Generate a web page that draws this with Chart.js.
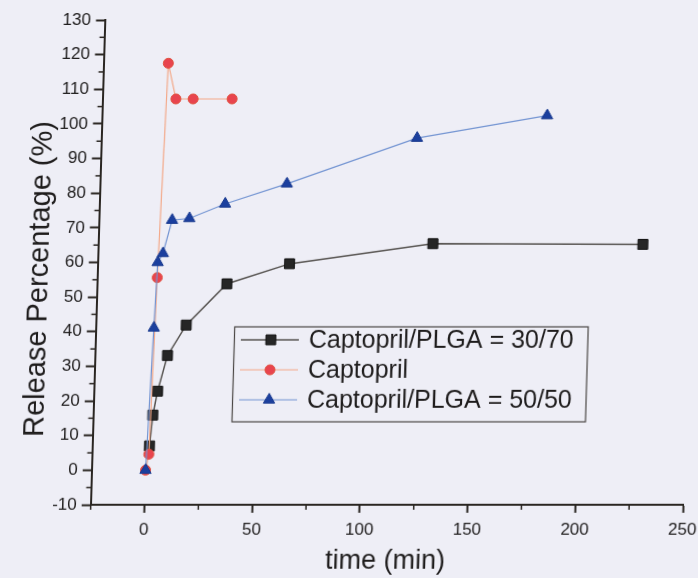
<!DOCTYPE html>
<html>
<head>
<meta charset="utf-8">
<script src="https://cdn.jsdelivr.net/npm/chart.js@4.4.1/dist/chart.umd.min.js"></script>
<style>
  html, body { margin: 0; padding: 0; background: #eeeef6; }
  #wrap { width: 698px; height: 578px; overflow: hidden; }
  canvas { display: block; transform: skewX(-1.69deg); transform-origin: 0 505px; }
</style>
</head>
<body>
<div id="wrap"><canvas id="c" width="698" height="578"></canvas></div>
<script>
// ---- data ----
const seriesNames = ['Captopril/PLGA = 30/70', 'Captopril', 'Captopril/PLGA = 50/50'];

const time3070    = [1.5, 2.6, 4.5, 8.6, 16.9, 35.2, 64.0, 130.3, 227.8];
const release3070 = [7.0, 15.9, 22.8, 33.1, 41.9, 53.8, 59.6, 65.4, 65.2];

const timeCap     = [0, 1.3, 2.8, 5.0, 9.0, 17.0, 35.1];
const releaseCap  = [0, 4.6, 55.6, 117.5, 107.2, 107.2, 107.2];

const time5050    = [0, 1.9, 2.8, 5.1, 8.9, 16.9, 33.3, 61.7, 121.5, 181.6];
const release5050 = [0, 41.1, 60.0, 62.6, 72.2, 72.7, 76.9, 82.7, 95.9, 102.4];

const xTickValues = [0, 50, 100, 150, 200, 250];
const yTickValues = [-10, 0, 10, 20, 30, 40, 50, 60, 70, 80, 90, 100, 110, 120, 130];
const xMinorTicks = [-25, 25, 75, 125, 175, 225];
const yMinorTicks = [-5, 5, 15, 25, 35, 45, 55, 65, 75, 85, 95, 105, 115, 125];

const xTitle = 'time (min)';
const yTitle = 'Release Percentage (%)';

const toPoints = (xs, ys) => xs.map((x, i) => ({ x: x, y: ys[i] }));

const FONT = '"Liberation Sans", Arial, sans-serif';
const AXIS = '#2a2622';

const minorTicks = {
  id: 'minorTicks',
  afterDraw(chart) {
    const { ctx, chartArea, scales } = chart;
    ctx.save();
    ctx.strokeStyle = AXIS;
    ctx.lineWidth = 1.5;
    xMinorTicks.forEach(v => {
      const px = scales.x.getPixelForValue(v);
      ctx.beginPath(); ctx.moveTo(px, chartArea.bottom); ctx.lineTo(px, chartArea.bottom + 5); ctx.stroke();
    });
    yMinorTicks.forEach(v => {
      const py = scales.y.getPixelForValue(v);
      ctx.beginPath(); ctx.moveTo(chartArea.left, py); ctx.lineTo(chartArea.left - 5, py); ctx.stroke();
    });
    ctx.restore();
  }
};

const yTitlePlugin = {
  id: 'yTitle',
  afterDraw(chart) {
    const ctx = chart.ctx;
    ctx.save();
    ctx.translate(41, 279);
    ctx.rotate(-Math.PI / 2);
    ctx.font = '29px ' + FONT;
    ctx.fillStyle = '#1e1c1c';
    ctx.textAlign = 'center';
    ctx.textBaseline = 'alphabetic';
    ctx.fillText(yTitle, 0, 0);
    ctx.restore();
  }
};

function drawMarker(ctx, style, x, y, r) {
  ctx.beginPath();
  if (style === 'rect') {
    const s = Math.SQRT1_2 * r;
    ctx.rect(x - s, y - s, 2 * s, 2 * s);
  } else if (style === 'circle') {
    ctx.arc(x, y, r, 0, Math.PI * 2);
  } else if (style === 'triangle') {
    ctx.moveTo(x, y - r);
    ctx.lineTo(x + r * Math.sin(Math.PI * 2 / 3), y - r * Math.cos(Math.PI * 2 / 3));
    ctx.lineTo(x - r * Math.sin(Math.PI * 2 / 3), y - r * Math.cos(Math.PI * 2 / 3));
    ctx.closePath();
  }
  ctx.fill();
  ctx.stroke();
}

const boxLegend = {
  id: 'boxLegend',
  afterDraw(chart) {
    const ctx = chart.ctx;
    const left = 229.5, top = 327, right = 583, bottom = 422;
    ctx.save();
    ctx.strokeStyle = '#4a4644';
    ctx.lineWidth = 1.2;
    ctx.strokeRect(left, top, right - left, bottom - top);
    const baselines = [348, 378, 408];
    chart.data.datasets.forEach((ds, i) => {
      const yb = baselines[i];
      const ym = yb - 8;
      ctx.strokeStyle = ds.borderColor;
      ctx.lineWidth = ds.borderWidth;
      ctx.beginPath(); ctx.moveTo(236, ym); ctx.lineTo(294, ym); ctx.stroke();
      ctx.fillStyle = ds.pointBackgroundColor;
      ctx.strokeStyle = ds.pointBorderColor;
      ctx.lineWidth = 1;
      drawMarker(ctx, ds.pointStyle, 266, ym, ds.pointRadius);
      ctx.fillStyle = '#1e1c1c';
      ctx.font = '25px ' + FONT;
      ctx.textAlign = 'left';
      ctx.textBaseline = 'alphabetic';
      ctx.fillText(ds.label, 304, yb);
    });
    ctx.restore();
  }
};

new Chart(document.getElementById('c'), {
  type: 'scatter',
  data: {
    datasets: [
      {
        label: seriesNames[0],
        data: toPoints(time3070, release3070),
        showLine: true,
        borderColor: '#55524f',
        borderWidth: 1.5,
        pointStyle: 'rect',
        pointRadius: 7,
        pointBackgroundColor: '#262626',
        pointBorderColor: '#111111',
        pointBorderWidth: 1,
        order: 2
      },
      {
        label: seriesNames[1],
        data: toPoints(timeCap, releaseCap),
        showLine: true,
        borderColor: '#f3a888',
        borderWidth: 1.2,
        pointStyle: 'circle',
        pointRadius: 5,
        pointBackgroundColor: '#e8444e',
        pointBorderColor: '#e0503e',
        pointBorderWidth: 1,
        order: 1
      },
      {
        label: seriesNames[2],
        data: toPoints(time5050, release5050),
        showLine: true,
        borderColor: '#7394d2',
        borderWidth: 1.2,
        pointStyle: 'triangle',
        pointRadius: 6.5,
        pointBackgroundColor: '#1b3f9e',
        pointBorderColor: '#17388e',
        pointBorderWidth: 1,
        order: 0
      }
    ]
  },
  options: {
    responsive: false,
    animation: false,
    devicePixelRatio: 1,
    layout: { padding: { top: 20, right: 15, left: 0, bottom: 0 } },
    plugins: {
      legend: { display: false },
      tooltip: { enabled: false }
    },
    scales: {
      x: {
        type: 'linear',
        min: -25,
        max: 250,
        afterFit(scale) { scale.height = 73; scale.paddingLeft = 0; scale.paddingRight = 0; },
        afterBuildTicks(scale) { scale.ticks = xTickValues.map(v => ({ value: v })); },
        border: { display: true, color: AXIS, width: 2 },
        grid: { display: true, drawOnChartArea: false, drawTicks: true, tickLength: 8, tickColor: AXIS, tickWidth: 2 },
        ticks: { padding: 7, color: '#1e1c1c', font: { family: FONT, size: 17 }, maxRotation: 0, autoSkip: false },
        title: { display: true, text: xTitle, color: '#1e1c1c', font: { family: FONT, size: 27 }, padding: { top: 0, bottom: 0 } }
      },
      y: {
        type: 'linear',
        min: -10,
        max: 130,
        afterFit(scale) { scale.width = 90.7; scale.paddingTop = 0; scale.paddingBottom = 0; },
        afterBuildTicks(scale) { scale.ticks = yTickValues.map(v => ({ value: v })); },
        border: { display: true, color: AXIS, width: 2 },
        grid: { display: true, drawOnChartArea: false, drawTicks: true, tickLength: 9, tickColor: AXIS, tickWidth: 2 },
        ticks: { padding: 5, color: '#1e1c1c', font: { family: FONT, size: 17 }, autoSkip: false }
      }
    }
  },
  plugins: [minorTicks, yTitlePlugin, boxLegend]
});
</script>
</body>
</html>
